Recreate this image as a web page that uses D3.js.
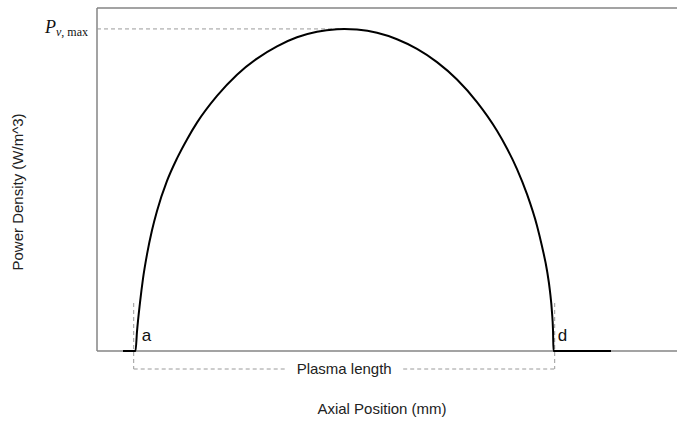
<!DOCTYPE html>
<html>
<head>
<meta charset="utf-8">
<script src="https://cdn.jsdelivr.net/npm/d3@7/dist/d3.min.js"></script>
<style>
  html, body { margin: 0; padding: 0; background: #fff; }
  svg { display: block; }
</style>
</head>
<body>
<svg id="chart" width="677" height="423"></svg>
<script>
// Axial positions (mm) and normalised power density along the discharge
const axialPos = [2.6, 3.85, 4.0, 4.3, 4.6, 5.0, 5.5, 6.0, 7, 8, 9, 10, 12, 14, 16, 18, 20, 22, 24, 24.75,
                  26, 28, 30, 32, 34, 36, 38, 40, 41, 42, 43, 44, 44.5, 45, 45.3, 45.5, 45.6, 45.65, 51.4];
const powerDensity = [0, 0, 0.06, 0.15, 0.225, 0.30, 0.375, 0.435, 0.528, 0.598, 0.657, 0.709, 0.792, 0.858,
                      0.908, 0.946, 0.974, 0.991, 0.999, 1.0,
                      0.998, 0.988, 0.968, 0.938, 0.897, 0.843, 0.773, 0.684, 0.629, 0.565, 0.487, 0.389,
                      0.325, 0.25, 0.185, 0.12, 0.065, 0, 0];

// Plasma boundaries a and d, and the peak marker
const plasmaEdges = [3.67, 45.77];
const edgeLabels = ["a", "d"];
const peakPos = 24.75;
const peakValue = 1.0;
const markerTop = 0.149;

const xDomain = [0, 57];
const yDomain = [0, 1.065];

const svg = d3.select("#chart");
const margin = { left: 97, top: 8, right: 10, bottom: 72 };
const W = 677, H = 423;

const x = d3.scaleLinear().domain(xDomain).range([margin.left, W - margin.right]);
const y = d3.scaleLinear().domain(yDomain).range([H - margin.bottom, margin.top]);

const frameColor = "#858585";
const dashColor = "#9a9a9a";
const sans = "Liberation Sans, Arial, sans-serif";

// Frame: left, top and bottom edges
const y0 = y(0), yTop = y(yDomain[1]);
svg.append("line").attr("x1", x(0)).attr("x2", x(0)).attr("y1", yTop).attr("y2", y0)
  .attr("stroke", frameColor).attr("stroke-width", 1.5);
svg.append("line").attr("x1", x(0)).attr("x2", W).attr("y1", yTop).attr("y2", yTop)
  .attr("stroke", frameColor).attr("stroke-width", 1.5);
svg.append("line").attr("x1", x(0)).attr("x2", W).attr("y1", y0).attr("y2", y0)
  .attr("stroke", frameColor).attr("stroke-width", 1.5);

// Peak guide line
svg.append("line")
  .attr("x1", x(0)).attr("x2", x(peakPos))
  .attr("y1", y(peakValue)).attr("y2", y(peakValue))
  .attr("stroke", dashColor).attr("stroke-width", 1).attr("stroke-dasharray", "4,3");

// Plasma length bracket
const bracketY = y0 + 18;
plasmaEdges.forEach(p => {
  svg.append("line")
    .attr("x1", x(p)).attr("x2", x(p))
    .attr("y1", y(markerTop)).attr("y2", bracketY)
    .attr("stroke", dashColor).attr("stroke-width", 1).attr("stroke-dasharray", "4,3");
});
const midX = (x(plasmaEdges[0]) + x(plasmaEdges[1])) / 2;
const gapHalf = 59;
svg.append("line")
  .attr("x1", x(plasmaEdges[0])).attr("x2", midX - gapHalf)
  .attr("y1", bracketY).attr("y2", bracketY)
  .attr("stroke", dashColor).attr("stroke-width", 1).attr("stroke-dasharray", "4,3");
svg.append("line")
  .attr("x1", midX + gapHalf).attr("x2", x(plasmaEdges[1]))
  .attr("y1", bracketY).attr("y2", bracketY)
  .attr("stroke", dashColor).attr("stroke-width", 1).attr("stroke-dasharray", "4,3");
svg.append("text")
  .attr("x", midX).attr("y", bracketY + 5)
  .attr("text-anchor", "middle")
  .attr("font-family", sans).attr("font-size", 15)
  .attr("fill", "#222")
  .text("Plasma length");

// Power density profile
const pts = axialPos.map((p, i) => [p, powerDensity[i]]);
const line = d3.line().x(d => x(d[0])).y(d => y(d[1])).curve(d3.curveMonotoneX);
svg.append("path").datum(pts)
  .attr("d", line)
  .attr("fill", "none").attr("stroke", "#000").attr("stroke-width", 2)
  .attr("stroke-linejoin", "round");

// Edge labels a and d
edgeLabels.forEach((t, i) => {
  svg.append("text")
    .attr("x", x(plasmaEdges[i]) + (i === 0 ? 8 : 3))
    .attr("y", y0 - 10)
    .attr("font-family", sans).attr("font-size", 17)
    .attr("fill", "#111")
    .text(t);
});

// Peak label P_v,max
const pl = svg.append("text")
  .attr("x", x(0) - 9).attr("y", y(peakValue) + 4)
  .attr("text-anchor", "end")
  .attr("font-family", "Liberation Serif, serif")
  .attr("fill", "#111");
pl.append("tspan").attr("font-style", "italic").attr("font-size", 18).text("P");
pl.append("tspan").attr("font-size", 12).attr("dy", 3)
  .html('<tspan font-style="italic">v</tspan>, max');

// Axis titles
svg.append("text")
  .attr("x", (margin.left + W - margin.right) / 2).attr("y", y0 + 63)
  .attr("text-anchor", "middle")
  .attr("font-family", sans).attr("font-size", 15)
  .attr("fill", "#222")
  .text("Axial Position (mm)");
svg.append("text")
  .attr("transform", `translate(23, 192) rotate(-90)`)
  .attr("text-anchor", "middle")
  .attr("font-family", sans).attr("font-size", 15)
  .attr("fill", "#222")
  .text("Power Density (W/m^3)");
</script>
</body>
</html>
